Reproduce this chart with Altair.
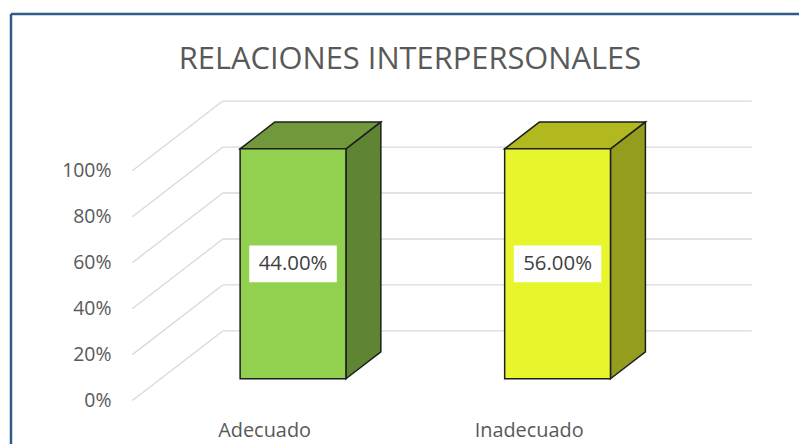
import altair as alt
import pandas as pd

# ---------------- data ----------------
titulo = "RELACIONES INTERPERSONALES"
categorias = ["Adecuado", "Inadecuado"]
valores = [0.44, 0.56]            # shown as labels; bars are 100 % stacked
niveles = [0, 0.2, 0.4, 0.6, 0.8, 1.0]   # axis ticks

# ---------------- styles / geometry ----------------
col_front = ["#92D050", "#E6F52C"]
col_top = ["#71993B", "#B1B820"]
col_side = ["#5F8532", "#959D1E"]
EDGE = "#1E1E1E"
GRID = "#D9D9D9"
TXT = "#595959"
FONT = "Open Sans"

HALF = 0.2          # half bar width (category units)
DX, DY = 0.342, 0.303   # oblique shift for full depth
ZF, ZB = 0.314, 0.70    # bar front / back depth
XL, XR = -0.5, 1.5      # wall extent (category units)

W, H = 795, 436
xs = alt.Scale(domain=[-0.97, 2.02], nice=False, zero=False)
ys = alt.Scale(domain=[-0.184, 1.703], nice=False, zero=False)

bars = pd.DataFrame({"categoria": categorias,
                     "idx": list(range(len(categorias))),
                     "valor": valores})
grid = pd.DataFrame({"nivel": niveles})

base = alt.Chart(bars).transform_joinaggregate(
    total="sum(valor)", groupby=["categoria"]
).transform_calculate(top="datum.valor / datum.total")

def colour(rng):
    return alt.Color("categoria:N", scale=alt.Scale(domain=categorias, range=rng), legend=None)

# gridlines on back wall
back_grid = alt.Chart(grid).transform_calculate(
    gx=f"{XL + DX}", gx2=f"{XR + DX}", gy=f"datum.nivel + {DY}"
).mark_rule(color=GRID, strokeWidth=1.3).encode(
    x=alt.X("gx:Q", scale=xs, axis=None), x2="gx2:Q",
    y=alt.Y("gy:Q", scale=ys, axis=None))

# diagonals on left wall
side_grid = alt.Chart(grid).transform_calculate(
    gx=f"{XL}", gx2=f"{XL + DX}", gy2=f"datum.nivel + {DY}"
).mark_rule(color=GRID, strokeWidth=1.3).encode(
    x=alt.X("gx:Q", scale=xs, axis=None), x2="gx2:Q",
    y=alt.Y("nivel:Q", scale=ys, axis=None), y2="gy2:Q")

# tick labels
tick_lab = alt.Chart(grid).transform_calculate(gx=f"{XL}").mark_text(
    align="right", baseline="middle", dx=-21, font=FONT, fontSize=19.5, color=TXT
).encode(x=alt.X("gx:Q", scale=xs, axis=None),
         y=alt.Y("nivel:Q", scale=ys, axis=None),
         text=alt.Text("nivel:Q", format=".0%"))

# bar faces
depth = base.transform_calculate(z=f"[{ZF}, {ZB}]").transform_flatten(["z"])

side = depth.transform_calculate(
    sx=f"datum.idx + {HALF} + datum.z * {DX}",
    sy=f"datum.z * {DY}",
    sy2=f"datum.top + datum.z * {DY}",
).mark_area(stroke=EDGE, strokeWidth=1.5, strokeJoin="miter", opacity=1).encode(
    x=alt.X("sx:Q", scale=xs, axis=None),
    y=alt.Y("sy:Q", scale=ys, axis=None), y2="sy2:Q",
    color=colour(col_side), detail="categoria:N")

top = depth.transform_calculate(
    tx=f"datum.idx - {HALF} + datum.z * {DX}",
    tx2=f"datum.idx + {HALF} + datum.z * {DX}",
    ty=f"datum.top + datum.z * {DY}",
).mark_area(orient="horizontal", stroke=EDGE, strokeWidth=1.5, strokeJoin="miter", opacity=1).encode(
    y=alt.Y("ty:Q", scale=ys, axis=None),
    x=alt.X("tx:Q", scale=xs, axis=None), x2="tx2:Q",
    color=colour(col_top), detail="categoria:N")

front = base.transform_calculate(
    fx=f"datum.idx - {HALF} + {ZF * DX}",
    fx2=f"datum.idx + {HALF} + {ZF * DX}",
    fy=f"{ZF * DY}",
    fy2=f"datum.top + {ZF * DY}",
).mark_rect(stroke=EDGE, strokeWidth=1.5, opacity=1).encode(
    x=alt.X("fx:Q", scale=xs, axis=None), x2="fx2:Q",
    y=alt.Y("fy:Q", scale=ys, axis=None), y2="fy2:Q",
    color=colour(col_front))

# data labels (white box + text)
lab_pos = base.transform_calculate(
    lx=f"datum.idx + {ZF * DX}", ly=f"datum.top / 2 + {ZF * DY}")
lab_box = lab_pos.mark_point(
    shape="M-1,-0.42H1V0.42H-1Z", size=88 * 88, filled=True, fill="white",
    opacity=1, strokeWidth=0
).encode(x=alt.X("lx:Q", scale=xs, axis=None), y=alt.Y("ly:Q", scale=ys, axis=None))
lab_txt = lab_pos.mark_text(font=FONT, fontSize=20.5, color="#404040", baseline="middle").encode(
    x=alt.X("lx:Q", scale=xs, axis=None), y=alt.Y("ly:Q", scale=ys, axis=None),
    text=alt.Text("valor:Q", format=".2%"))

# category labels on the front floor edge
cat_lab = alt.Chart(bars).transform_calculate(cy="0").mark_text(
    font=FONT, fontSize=20, color=TXT, baseline="middle", dy=31
).encode(x=alt.X("idx:Q", scale=xs, axis=None), y=alt.Y("cy:Q", scale=ys, axis=None),
         text="categoria:N")

# chart frame (top and left edges visible in the picture)
frame_df = pd.DataFrame({"k": [0]})
frame_top = alt.Chart(frame_df).mark_rule(color="#2E5B87", strokeWidth=2.5).encode(
    x=alt.value(3), x2=alt.value(W + 20), y=alt.value(5))
frame_left = alt.Chart(frame_df).mark_rule(color="#2E5B87", strokeWidth=2.5).encode(
    x=alt.value(3), y=alt.value(5), y2=alt.value(H + 20))

chart = alt.layer(
    back_grid, side_grid, tick_lab, side, top, front, lab_box, lab_txt, cat_lab,
    frame_top, frame_left
).resolve_scale(color="independent").properties(
    width=W, height=H, padding=0, autosize="none",
    title=alt.TitleParams(titulo, font=FONT, fontSize=31, color=TXT, fontWeight="normal",
                          anchor="middle", baseline="alphabetic", offset=0, dx=6.5, dy=91)
).configure_view(stroke=None)

chart.save("out.html", embed_options={"renderer": "svg", "actions": False})
